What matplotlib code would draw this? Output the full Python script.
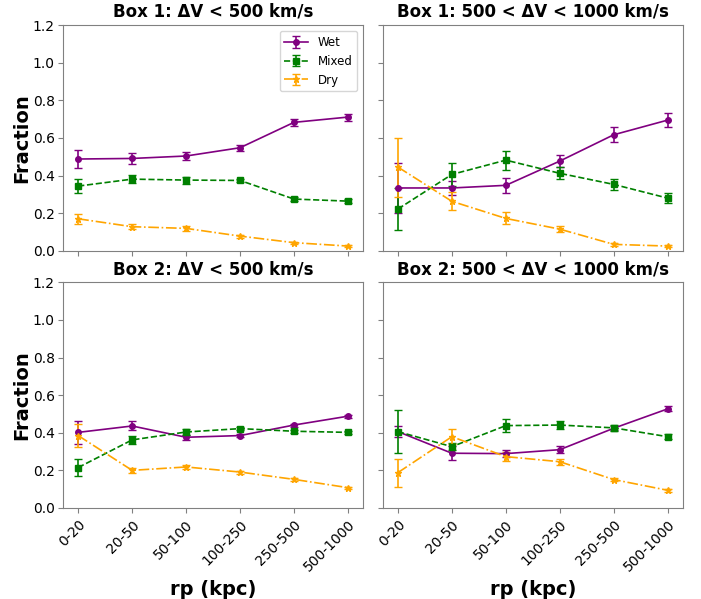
import matplotlib
matplotlib.use("Agg")
import matplotlib.pyplot as plt
import numpy as np

rp_bins = ["0-20", "20-50", "50-100", "100-250", "250-500", "500-1000"]
titles = [
    "Box 1: ΔV < 500 km/s",
    "Box 1: 500 < ΔV < 1000 km/s",
    "Box 2: ΔV < 500 km/s",
    "Box 2: 500 < ΔV < 1000 km/s",
]

# Box 1, dV < 500
b1_near_wet = [0.488, 0.491, 0.504, 0.548, 0.683, 0.711]
b1_near_wet_err = [0.046, 0.027, 0.020, 0.015, 0.020, 0.019]
b1_near_mixed = [0.344, 0.381, 0.376, 0.374, 0.275, 0.264]
b1_near_mixed_err = [0.037, 0.023, 0.019, 0.009, 0.011, 0.011]
b1_near_dry = [0.170, 0.128, 0.119, 0.078, 0.043, 0.025]
b1_near_dry_err = [0.028, 0.014, 0.012, 0.008, 0.006, 0.005]

# Box 1, 500 < dV < 1000
b1_far_wet = [0.334, 0.334, 0.348, 0.477, 0.617, 0.695]
b1_far_wet_err = [0.135, 0.036, 0.041, 0.033, 0.041, 0.039]
b1_far_mixed = [0.222, 0.406, 0.482, 0.412, 0.353, 0.280]
b1_far_mixed_err = [0.112, 0.059, 0.051, 0.031, 0.029, 0.025]
b1_far_dry = [0.445, 0.263, 0.172, 0.115, 0.034, 0.025]
b1_far_dry_err = [0.157, 0.048, 0.032, 0.015, 0.008, 0.006]

# Box 2, dV < 500
b2_near_wet = [0.402, 0.436, 0.376, 0.385, 0.441, 0.488]
b2_near_wet_err = [0.062, 0.024, 0.013, 0.008, 0.008, 0.009]
b2_near_mixed = [0.215, 0.362, 0.404, 0.422, 0.408, 0.402]
b2_near_mixed_err = [0.046, 0.020, 0.018, 0.009, 0.008, 0.006]
b2_near_dry = [0.385, 0.200, 0.218, 0.191, 0.152, 0.108]
b2_near_dry_err = [0.063, 0.014, 0.012, 0.008, 0.007, 0.006]

# Box 2, 500 < dV < 1000
b2_far_wet = [0.406, 0.291, 0.289, 0.310, 0.424, 0.527]
b2_far_wet_err = [0.030, 0.036, 0.020, 0.018, 0.010, 0.013]
b2_far_mixed = [0.406, 0.326, 0.438, 0.441, 0.426, 0.379]
b2_far_mixed_err = [0.113, 0.018, 0.035, 0.019, 0.016, 0.012]
b2_far_dry = [0.188, 0.379, 0.273, 0.246, 0.151, 0.094]
b2_far_dry_err = [0.075, 0.041, 0.025, 0.015, 0.009, 0.007]

panels = [
    (b1_near_wet, b1_near_wet_err, b1_near_mixed, b1_near_mixed_err, b1_near_dry, b1_near_dry_err),
    (b1_far_wet, b1_far_wet_err, b1_far_mixed, b1_far_mixed_err, b1_far_dry, b1_far_dry_err),
    (b2_near_wet, b2_near_wet_err, b2_near_mixed, b2_near_mixed_err, b2_near_dry, b2_near_dry_err),
    (b2_far_wet, b2_far_wet_err, b2_far_mixed, b2_far_mixed_err, b2_far_dry, b2_far_dry_err),
]

styles = [
    ("Wet", "purple", "-", "o", 4),
    ("Mixed", "green", "--", "s", 4),
    ("Dry", "orange", "-.", "*", 4.5),
]

fig, axes = plt.subplots(2, 2, figsize=(7.01, 5.99), dpi=100, sharex=True, sharey=True)
fig.subplots_adjust(left=0.09, right=0.974, top=0.958, bottom=0.152, wspace=0.066, hspace=0.14)

x = np.arange(len(rp_bins))
for ax, title, data in zip(axes.flat, titles, panels):
    for k, (label, color, ls, marker, ms) in enumerate(styles):
        ax.errorbar(x, data[2 * k], yerr=data[2 * k + 1], color=color, linestyle=ls,
                    marker=marker, markersize=ms, capsize=3, linewidth=1.2,
                    elinewidth=1.2, label=label)
    ax.set_title(title, fontsize=12, fontweight="bold")
    ax.set_ylim(0, 1.2)
    ax.set_xlim(-0.28, 5.28)
    for sp in ax.spines.values():
        sp.set_color("gray")
    ax.tick_params(colors="gray", labelcolor="black", labelsize=10)
    ax.tick_params(axis="y", pad=2.5)

axes[0, 0].legend(loc="upper right", fontsize=8.5)
for ax in axes[1]:
    ax.set_xticks(x)
    ax.set_xticklabels(rp_bins, rotation=45, ha="right", rotation_mode="anchor")
    ax.set_xlabel("rp (kpc)", fontsize=14, fontweight="bold")
for ax in axes[:, 0]:
    ax.set_ylabel("Fraction", fontsize=14, fontweight="bold")
    ax.yaxis.set_label_coords(-0.105, 0.5)

fig.savefig("out.png", dpi=100)
